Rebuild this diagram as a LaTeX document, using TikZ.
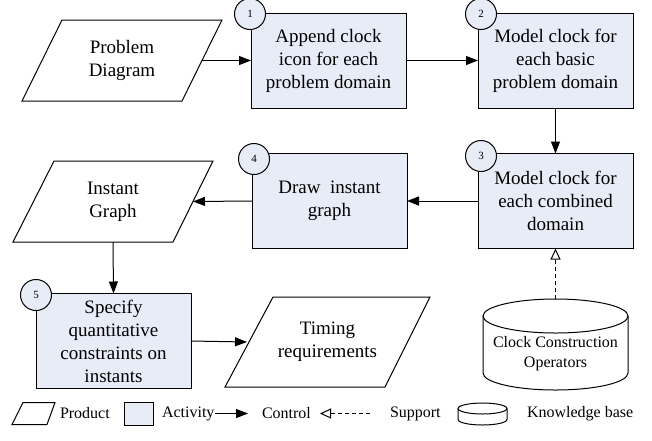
\documentclass[tikz,border=0pt]{standalone}
\usepackage{fontspec}
\setmainfont{Liberation Serif}
\usetikzlibrary{arrows.meta}
\definecolor{actfill}{RGB}{231,236,247}
\tikzset{
  every node/.style={inner sep=0pt, outer sep=0pt},
  lw/.style={line width=1pt},
  maintext/.style={font=\fontsize{19}{23}\selectfont, align=center},
  smalltext/.style={font=\fontsize{16}{19.5}\selectfont, align=center},
  activity/.style={draw, lw, fill=actfill, minimum width=155pt, minimum height=95pt, maintext},
  prodarea/.style={minimum width=200pt, minimum height=81pt, maintext},
  numcirc/.style={draw, lw, fill=actfill, circle, minimum size=31pt, font=\fontsize{11}{12}\selectfont},
  ctrl/.style={lw, -{Triangle[length=12pt,width=9pt]}},
  supp/.style={lw, dashed, dash pattern=on 4pt off 3pt, -{Triangle[open,length=11pt,width=10pt]}},
  legtext/.style={font=\fontsize{16}{19}\selectfont},
}
\begin{document}
\begin{tikzpicture}[x=1pt,y=-1pt]
\useasboundingbox (0,0) rectangle (652,440);

% products
\node[prodarea] (pd) at (122,60.5) {Problem\\Diagram};
\draw[lw] ([xshift=40pt]pd.north west) -- (pd.north east) -- ([xshift=-40pt]pd.south east) -- (pd.south west) -- cycle;
\node[prodarea] (ig) at (113,201.5) {Instant\\Graph};
\draw[lw] ([xshift=41pt]ig.north west) -- (ig.north east) -- ([xshift=-40pt]ig.south east) -- (ig.south west) -- cycle;
\node[prodarea, minimum width=205pt, minimum height=90pt] (tr) at (327.5,342) {Timing\\requirements};
\draw[lw] ([xshift=48pt]tr.north west) -- (tr.north east) -- ([xshift=-45pt]tr.south east) -- (tr.south west) -- cycle;

% activities
\node[activity] (a1) at (328.5,60.5) {Append clock\\icon for each\\problem domain};
\node[activity] (a2) at (555.5,60.5) {Model clock for\\each basic\\problem domain};
\node[activity] (a3) at (555.5,201) {Model clock for\\each combined\\domain};
\node[activity] (a4) at (329.5,201) {Draw\ \ instant\\graph};
\node[activity] (a5) at (113.5,341) {Specify\\quantitative\\constraints on\\instants};

\node[numcirc] (n1) at (250,14) {1};
\node[numcirc] (n2) at (481,14) {2};
\node[numcirc] (n3) at (481,156) {3};
\node[numcirc] (n4) at (254,159) {4};
\node[numcirc] (n5) at (36,295) {5};

% knowledge base
\node[minimum width=145pt, minimum height=91pt] (kb) at (555.5,344.5) {};
\draw[lw] (kb.north) ++(0,17) ellipse [x radius=72.5, y radius=17];
\draw[lw] ([yshift=-17pt]kb.north west) -- ([yshift=17pt]kb.south west)
   arc[start angle=180, end angle=0, x radius=72.5, y radius=17] -- ([yshift=-17pt]kb.north east);
\node[smalltext] (kbt) at (555.5,353.5) {Clock Construction\\Operators};

% connectors
\draw[ctrl] ([xshift=-20pt]pd.east) -- (a1.west);
\draw[ctrl] (a1.east) -- (a2.west);
\draw[ctrl] (a2.south) -- (a3.north);
\draw[ctrl] (a3.west) -- (a4.east);
\draw[ctrl] (a4.west) -- ([xshift=-20pt]ig.east);
\draw[ctrl] (ig.south) -- (a5.north);
\draw[ctrl] (a5.east) -- ([xshift=22pt]tr.west);
\draw[supp] (kb.north) -- (a3.south);

% legend
\node[minimum width=43pt, minimum height=22pt] (lp) at (33.5,413.5) {};
\draw[lw] ([xshift=11pt]lp.north west) -- (lp.north east) -- ([xshift=-8pt]lp.south east) -- (lp.south west) -- cycle;
\node[legtext, anchor=west] (lpt) at (60,413.5) {Product};
\node[draw, lw, fill=actfill, minimum width=29pt, minimum height=23pt] (la) at (138.5,413.5) {};
\node[legtext, anchor=west] (lat) at (162,413.5) {Activity};
\coordinate (lc1) at (215,413.5);
\coordinate (lc2) at (248,413.5);
\draw[ctrl] (lc1) -- (lc2);
\node[legtext, anchor=west] (lct) at (262,413.5) {Control};
\coordinate (ls1) at (370,413.5);
\coordinate (ls2) at (320,413.5);
\draw[supp] (ls1) -- (ls2);
\node[legtext, anchor=west] (lst) at (390,413.5) {Support};
\node[minimum width=49pt, minimum height=22pt] (lk) at (482.5,414) {};
\draw[lw] (lk.north) ++(0,5.5) ellipse [x radius=24.5, y radius=5.5];
\draw[lw] ([yshift=-5.5pt]lk.north west) -- ([yshift=5.5pt]lk.south west)
   arc[start angle=180, end angle=0, x radius=24.5, y radius=5.5] -- ([yshift=-5.5pt]lk.north east);
\node[legtext, anchor=west] (lkt) at (527,413.5) {Knowledge base};
\end{tikzpicture}
\end{document}
